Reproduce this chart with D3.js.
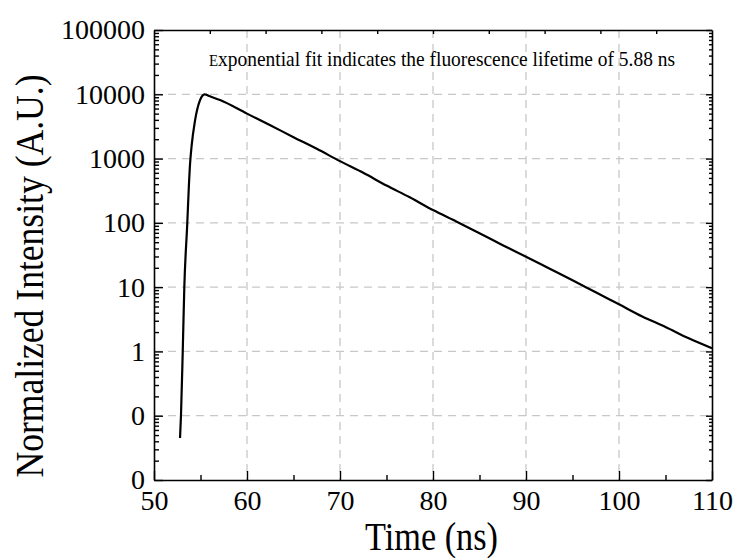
<!DOCTYPE html>
<html lang="en">
<head>
  <meta charset="UTF-8">
  <title>Fluorescence decay</title>
  <script src="https://d3js.org/d3.v7.min.js"></script>
  <style>
    * { margin: 0; padding: 0; box-sizing: border-box; }
    body { background: #fff; }
    svg text { font-family: "Liberation Serif", "Times New Roman", Times, serif; fill: #000; }
    .grid line { stroke: #c8c8c8; stroke-width: 1.3; stroke-dasharray: 8,6; }
    .axis path, .axis line { stroke: #000; stroke-width: 1.6; }
  </style>
</head>
<body>
  <div id="chart"></div>
  <script>
    // (time in ns, normalized counts)
    const timeNs = [52.80, 52.90, 53.09, 53.26, 53.58, 53.72, 53.87, 54.05, 54.41, 54.95, 55.20, 55.45,
                    56.0, 57.1, 60.0, 62.5, 65.0, 67.5, 70.0, 72.5, 75.0, 77.5, 80.0, 82.5, 85.0, 87.5, 90.0,
                    92.5, 95.0, 97.5, 100.0, 102.5, 105.0, 107.5, 110.0];
    const intensity = [0.045, 0.1, 1, 10, 100, 300, 800, 1600, 3900, 8100, 9500, 10000,
                       9300, 8130, 5000, 3300, 2150, 1420, 912, 600, 380, 250, 158, 105, 69, 45, 29.7,
                       19.5, 12.8, 8.3, 5.4, 3.5, 2.4, 1.6, 1.12];

    const xTicks = [50, 60, 70, 80, 90, 100, 110];
    const xMinor = [55, 65, 75, 85, 95, 105];
    const xTopTicks = [56, 62, 68, 74, 80, 86, 92, 98, 104];
    const yTicks = [0.01, 0.1, 1, 10, 100, 1000, 10000, 100000];
    const yTickLabels = ["0", "0", "1", "10", "100", "1000", "10000", "100000"];

    const margin = {top: 30, right: 25, bottom: 78, left: 154},
          width = 737 - margin.left - margin.right,
          height = 558 - margin.top - margin.bottom;

    const svg = d3.select("#chart")
                  .append("svg")
                  .attr("width", 737)
                  .attr("height", 558)
                  .append("g")
                  .attr("transform", `translate(${margin.left},${margin.top})`);

    const x = d3.scaleLinear().domain([50, 110]).range([0, width]);
    const y = d3.scaleLog().domain([0.01, 100000]).range([height, 0]);

    const yMinor = y.ticks().filter(v => !yTicks.includes(v));

    // grid
    svg.append("g")
       .attr("class", "grid")
       .selectAll("line")
       .data(xTicks.slice(1, -1))
       .join("line")
       .attr("x1", d => x(d)).attr("x2", d => x(d))
       .attr("y1", 0).attr("y2", height);

    svg.append("g")
       .attr("class", "grid")
       .selectAll("line")
       .data(yTicks.slice(1, -1))
       .join("line")
       .attr("x1", 0).attr("x2", width)
       .attr("y1", d => y(d)).attr("y2", d => y(d));

    // curve
    const line = d3.line()
                   .x((d, i) => x(timeNs[i]))
                   .y(d => y(d))
                   .curve(d3.curveMonotoneX);

    svg.append("path")
       .datum(intensity)
       .attr("fill", "none")
       .attr("stroke", "#000")
       .attr("stroke-width", 2.2)
       .attr("stroke-linejoin", "round")
       .attr("d", line);

    // bottom axis
    svg.append("g")
       .attr("class", "axis")
       .attr("transform", `translate(0,${height})`)
       .call(d3.axisBottom(x).tickValues(xTicks).tickSize(-9).tickSizeOuter(0).tickPadding(10))
       .selectAll("text")
       .style("font-size", "28px");

    svg.append("g")
       .attr("class", "axis")
       .attr("transform", `translate(0,${height})`)
       .call(d3.axisBottom(x).tickValues(xMinor).tickSize(-5).tickFormat(""))
       .select(".domain").remove();

    // top axis
    svg.append("g")
       .attr("class", "axis")
       .call(d3.axisTop(x).tickValues(xTopTicks).tickSize(-4).tickSizeOuter(0).tickFormat(""));

    // left axis
    svg.append("g")
       .attr("class", "axis")
       .call(d3.axisLeft(y).tickValues(yTicks).tickSize(-9).tickSizeOuter(0).tickPadding(9)
               .tickFormat((d, i) => yTickLabels[i]))
       .selectAll("text")
       .style("font-size", "28px");

    svg.append("g")
       .attr("class", "axis")
       .call(d3.axisLeft(y).tickValues(yMinor).tickSize(-5).tickFormat(""))
       .select(".domain").remove();

    // right axis
    svg.append("g")
       .attr("class", "axis")
       .attr("transform", `translate(${width},0)`)
       .call(d3.axisRight(y).tickValues(yTicks).tickSize(-6).tickSizeOuter(0).tickFormat(""));

    svg.append("g")
       .attr("class", "axis")
       .attr("transform", `translate(${width},0)`)
       .call(d3.axisRight(y).tickValues(yMinor).tickSize(-3).tickFormat(""))
       .select(".domain").remove();

    svg.selectAll(".axis line").style("stroke-width", 1.4);

    // titles
    svg.append("text")
       .attr("x", x(50) + 211)
       .attr("y", height + 70)
       .attr("textLength", 133)
       .attr("lengthAdjust", "spacingAndGlyphs")
       .style("font-size", "39px")
       .text("Time (ns)");

    svg.append("text")
       .attr("transform", `translate(${43 - margin.left},${276 - margin.top}) rotate(-90)`)
       .attr("text-anchor", "middle")
       .attr("textLength", 403)
       .attr("lengthAdjust", "spacingAndGlyphs")
       .style("font-size", "40px")
       .text("Normalized Intensity (A.U.)");

    const note = svg.append("text")
       .attr("x", 209 - margin.left)
       .attr("y", 66 - margin.top)
       .attr("textLength", 466)
       .attr("lengthAdjust", "spacingAndGlyphs")
       .style("font-size", "21px");
    note.append("tspan").style("font-size", "16px").text("E");
    note.append("tspan").text("xponential fit indicates the fluorescence lifetime of 5.88 ns");
  </script>
</body>
</html>
